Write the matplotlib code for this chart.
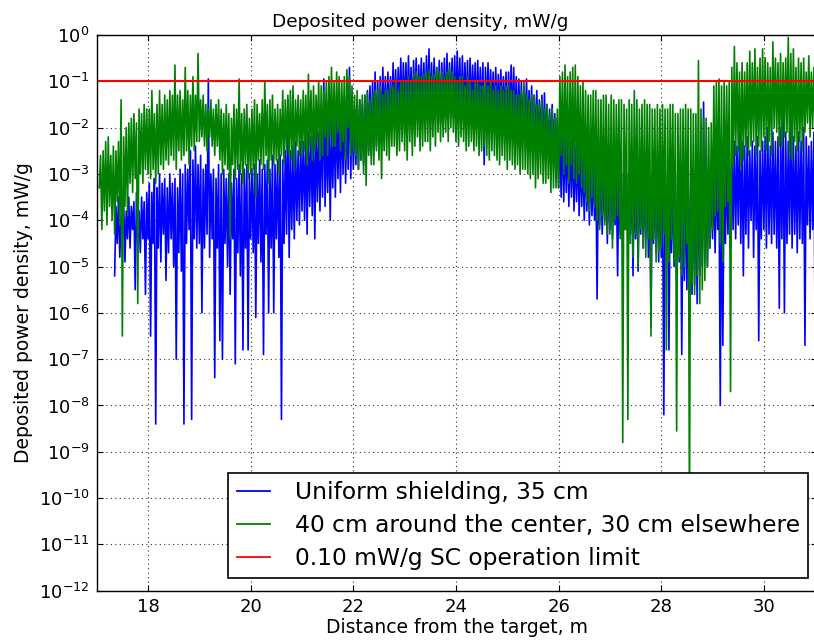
import numpy as np
import matplotlib
matplotlib.use("Agg")
import matplotlib.pyplot as plt
from matplotlib.ticker import LogLocator, NullLocator

# ---- data: log10 of deposited power density (mW/g), one value every 0.025 m ----
x_step = 0.025

blue_x0 = 17.35
blue_exp = [
    # 17.35 - 17.975
    -5.2, -3.7, -4.5, -3.5, -4.8, -3.9, -4.3, -3.6, -4.9, -3.8, -4.4, -3.5, -4.6, -3.7, -4.2, -3.6, -5.5, -3.4, -4.5, -3.8,
    -4.7, -3.5, -4.4, -3.6, -5.6, -3.4,
    # 18
    -4.4, -3.2, -6.5, -3.4, -4.5, -3.1, -8.4, -3.3, -4.6, -3.0, -4.9, -3.2, -4.3, -3.1, -5.3, -3.3, -4.7, -3.0, -4.4, -3.2,
    -5.0, -3.1, -7.0, -3.3, -4.7, -2.9, -5.1, -3.0, -8.4, -2.8, -4.5, -2.9, -4.2, -2.5, -8.3, -2.7, -4.4, -2.4, -4.6, -2.8,
    # 19
    -4.5, -2.6, -6.0, -2.9, -4.6, -2.8, -4.3, -0.95, -4.8, -3.0, -4.4, -2.9, -7.4, -3.1, -4.6, -2.8, -6.6, -3.0, -7.0, -2.9,
    -4.5, -3.1, -5.0, -3.0, -5.6, -3.2, -4.4, -2.9, -7.1, -3.1, -4.7, -2.8, -5.2, -3.0, -6.8, -2.9, -4.6, -2.8, -6.8, -3.0,
    # 20
    -4.4, -2.9, -4.7, -2.8, -6.1, -3.0, -4.5, -2.7, -4.9, -2.9, -6.9, -2.8, -4.3, -2.7, -6.0, -2.9, -4.6, -2.6, -6.0, -2.8,
    -4.4, -2.7, -4.8, -2.6, -8.3, -2.7, -4.5, -2.5, -4.3, -1.4, -4.8, -2.5, -4.2, -2.4, -4.4, -2.3, -4.0, -2.5, -4.1, -2.3,
    # 21
    -3.8, -2.3, -4.0, -2.2, -4.3, -2.1, -3.7, -2.2, -3.9, -2.0, -4.4, -1.9, -3.6, -2.1, -3.8, -1.8, -3.5, -0.95, -3.7, -1.9,
    -3.4, -1.7, -4.0, -1.8, -3.3, -1.6, -3.5, -1.5, -3.1, -1.7, -3.4, -1.5, -3.0, -1.4, -3.2, -1.6, -2.9, -0.7, -3.1, -1.4,
    # 22
    -2.9, -1.6, -2.8, -1.5, -2.9, -1.4, -2.7, -1.5, -2.8, -1.3, -2.6, -1.2, -2.5, -1.1, -2.6, -1.0, -2.3, -0.8, -2.4, -1.0,
    -2.2, -0.9, -2.3, -0.7, -2.0, -0.9, -2.1, -0.8, -1.9, -0.9, -2.0, -0.6, -1.8, -0.75, -1.9, -0.7, -1.7, -0.5, -1.8, -0.6,
    # 23
    -1.7, -0.6, -1.8, -0.45, -1.6, -0.7, -1.9, -0.55, -1.7, -0.5, -1.8, -0.65, -1.6, -0.5, -1.7, -0.6, -1.9, -0.45, -1.6, -0.3,
    -1.7, -0.6, -1.8, -0.5, -1.6, -0.7, -1.7, -0.55, -1.9, -0.6, -1.6, -0.5, -1.8, -0.4, -1.7, -0.6, -1.6, -0.5, -1.8, -0.45,
    # 24
    -1.7, -0.35, -1.6, -0.5, -1.8, -0.45, -1.7, -0.6, -1.6, -0.55, -1.9, -0.5, -1.7, -0.65, -1.6, -0.6, -1.8, -0.55, -1.7, -0.7,
    -1.9, -0.6, -2.8, -0.7, -1.7, -0.6, -1.8, -0.75, -1.7, -0.8, -1.9, -0.7, -1.8, -0.85, -1.7, -0.75, -1.9, -0.9, -1.8, -0.8,
    # 25
    -2.0, -0.8, -1.9, -0.65, -2.1, -0.7, -2.0, -0.9, -2.2, -0.95, -2.1, -1.0, -2.2, -1.1, -2.0, -0.95, -2.3, -1.2, -2.2, -1.1,
    -2.4, -1.3, -2.3, -1.2, -2.4, -1.4, -2.2, -1.3, -2.5, -1.25, -2.4, -1.5, -2.6, -1.6, -2.5, -1.5, -2.6, -1.7, -2.7, -1.8,
    # 26
    -3.3, -2.0, -3.5, -1.9, -3.6, -2.2, -3.4, -2.1, -3.7, -2.3, -3.5, -2.2, -3.8, -2.4, -3.6, -2.3, -3.9, -2.5, -3.7, -2.6,
    -4.0, -2.5, -3.8, -2.7, -4.1, -2.6, -3.9, -2.8, -4.0, -2.7, -5.7, -2.9, -4.1, -2.8, -4.3, -2.9, -4.0, -3.0, -4.5, -2.9,
    # 27
    -4.2, -2.9, -4.4, -3.0, -4.1, -3.1, -5.2, -2.9, -4.3, -3.0, -4.6, -3.2, -4.2, -3.0, -4.5, -3.1, -4.3, -2.9, -5.2, -3.1,
    -4.4, -3.2, -5.1, -3.0, -4.3, -3.1, -4.6, -3.2, -4.4, -3.0, -4.8, -3.1, -6.3, -3.0, -4.5, -3.2, -4.7, -3.1, -4.9, -3.0,
    # 28
    -4.8, -3.1, -8.2, -3.2, -4.6, -3.0, -6.8, -3.2, -4.7, -3.1, -5.0, -3.0, -5.2, -3.2, -4.9, -3.1, -6.9, -3.0, -5.3, -3.2,
    -5.5, -3.1, -5.1, -3.3, -5.6, -3.0, -5.4, -3.2, -5.8, -3.1, -5.2, -3.0, -5.0, -1.45, -4.9, -3.2, -5.0, -3.0, -4.6, -3.1,
    # 29
    -4.4, -3.0, -4.7, -2.9, -4.2, -3.1, -8.0, -2.9, -6.7, -3.0, -4.5, -2.8, -4.3, -2.7, -4.6, -2.5, -4.2, -2.3, -4.4, -2.4,
    -4.1, -2.1, -4.5, -2.3, -5.2, -2.4, -4.3, -2.2, -4.6, -2.5, -4.0, -2.3, -4.8, -2.4, -4.2, -2.2, -6.6, -2.5, -4.4, -2.3,
    # 30
    -4.2, -2.2, -4.6, -2.0, -4.3, -2.4, -4.5, -2.1, -4.3, -2.3, -4.6, -2.2, -5.9, -2.0, -4.4, -1.7, -6.0, -2.1, -4.5, -2.3,
    -4.3, -1.8, -4.6, -2.2, -4.3, -2.4, -4.7, -2.1, -4.4, -2.3, -4.5, -2.0, -6.7, -2.2, -4.1, -2.4, -4.4, -2.3, -4.2, -2.1,
    # 31
    -7.0, -2.6, -3.0,
]

green_x0 = 17.05
green_exp = [
    # 17.05 - 17.975
    -3.3, -2.6, -4.2, -2.5, -3.8, -2.3, -4.1, -2.2, -3.7, -2.6, -4.0, -2.4, -4.3, -2.5, -3.6, -2.3, -4.1, -1.4, -6.5, -2.2,
    -3.7, -2.0, -3.9, -1.9, -3.2, -1.8, -3.4, -1.7, -3.1, -1.9, -5.8, -1.6, -3.0, -1.7, -3.2, -1.5, -2.9, -1.6,
    # 18
    -3.0, -1.6, -3.1, -1.2, -2.9, -1.7, -3.2, -1.5, -3.0, -1.2, -2.8, -1.5, -2.9, -1.3, -2.7, -1.4, -2.8, -1.2, -2.6, -1.3,
    -2.7, -0.65, -2.9, -1.3, -2.5, -1.2, -2.7, -1.4, -2.6, -0.7, -2.5, -1.2, -2.8, -1.3, -2.4, -0.9, -2.5, -1.3, -2.3, -0.4,
    # 19
    -2.3, -1.4, -2.2, -1.3, -2.4, -1.5, -2.5, -1.6, -2.2, -1.4, -2.4, -1.6, -2.6, -1.5, -2.4, -1.4, -2.7, -1.6, -3.0, -1.7,
    -2.8, -1.5, -2.9, -1.7, -4.4, -1.8, -2.8, -1.5, -3.1, -1.6, -2.9, -0.95, -3.0, -1.7, -3.2, -1.6, -2.8, -1.5, -3.1, -1.8,
    # 20
    -3.0, -1.6, -2.9, -1.4, -3.5, -1.5, -2.7, -1.7, -2.8, -1.4, -2.9, -1.0, -2.6, -1.5, -3.2, -1.4, -2.7, -1.3, -2.8, -1.6,
    -2.7, -1.5, -3.0, -1.6, -2.6, -1.2, -2.8, -1.4, -2.5, -1.3, -2.6, -1.2, -2.7, -1.1, -2.9, -1.4, -2.4, -1.3, -2.6, -1.4,
    # 21
    -2.6, -1.2, -2.5, -1.3, -2.8, -0.85, -2.4, -1.2, -2.7, -1.1, -2.5, -1.3, -2.3, -1.0, -2.7, -1.1, -2.6, -1.2, -2.2, -1.0,
    -2.6, -0.9, -2.2, -0.7, -2.4, -1.0, -2.4, -0.8, -2.1, -0.9, -2.5, -1.0, -2.3, -0.9, -2.7, -0.75, -2.0, -0.9, -2.6, -1.1,
    # 22
    -2.5, -1.3, -2.6, -1.2, -2.9, -1.4, -2.7, -1.3, -3.0, -1.3, -3.25, -1.25, -2.6, -1.4, -2.8, -1.3, -2.8, -1.2, -2.5, -1.2,
    -2.7, -1.1, -3.1, -1.3, -2.5, -1.2, -2.6, -1.2, -2.7, -1.1, -2.4, -1.1, -2.4, -1.0, -2.6, -1.2, -2.5, -1.0, -2.3, -1.0,
    # 23
    -2.5, -1.0, -2.7, -0.9, -2.3, -1.0, -2.6, -0.85, -2.4, -0.8, -2.2, -0.9, -2.5, -0.9, -2.4, -0.85, -2.3, -0.8, -2.3, -0.75,
    -2.5, -0.9, -2.2, -0.85, -2.4, -0.7, -2.1, -0.8, -2.3, -0.8, -2.2, -0.9, -2.1, -0.8, -2.3, -0.7, -2.0, -0.8, -2.1, -0.9,
    # 24
    -2.3, -1.0, -2.4, -0.9, -2.2, -0.9, -2.3, -1.1, -2.5, -0.9, -2.4, -1.0, -2.3, -1.2, -2.5, -1.0, -2.4, -1.0, -2.6, -1.1,
    -2.5, -1.1, -2.4, -1.0, -2.6, -1.1, -2.7, -1.0, -2.5, -1.2, -2.6, -1.1, -2.7, -1.2, -2.8, -1.1, -2.6, -1.2, -2.7, -1.1,
    # 25
    -2.9, -1.1, -2.7, -1.2, -2.8, -1.2, -2.9, -1.3, -2.8, -1.3, -3.0, -1.2, -2.9, -1.0, -2.9, -1.3, -3.0, -1.4, -3.1, -1.3,
    -3.0, -1.3, -3.3, -1.5, -3.1, -1.5, -3.0, -1.4, -3.2, -1.6, -3.2, -1.5, -3.1, -1.7, -3.4, -1.6, -3.3, -1.8, -3.3, -1.6,
    # 26
    -3.3, -0.9, -2.6, -0.8, -3.0, -0.65, -2.8, -0.9, -3.2, -0.8, -2.8, -0.7, -3.1, -0.65, -3.2, -0.9, -3.0, -1.1, -3.3, -1.0,
    -3.4, -1.2, -3.6, -1.3, -3.8, -1.3, -3.5, -1.2, -3.7, -1.2, -4.0, -1.4, -4.2, -1.4, -3.9, -1.3, -4.1, -1.3, -4.3, -1.5,
    # 27
    -4.3, -1.3, -4.6, -1.4, -4.0, -1.5, -3.9, -1.4, -4.4, -1.4, -8.8, -1.5, -4.2, -1.6, -8.3, -1.4, -4.5, -1.5, -4.8, -1.2,
    -4.3, -1.4, -5.0, -1.6, -4.2, -1.5, -4.6, -1.4, -4.8, -1.5, -4.4, -1.5, -6.5, -1.6, -4.4, -1.6, -4.9, -1.5, -4.7, -1.6,
    # 28
    -4.6, -1.5, -4.3, -1.6, -6.8, -1.6, -4.9, -1.5, -4.4, -1.5, -4.9, -1.7, -8.55, -1.7, -4.8, -1.6, -5.2, -1.6, -5.0, -1.5,
    -4.5, -1.6, -10.5, -1.6, -5.4, -1.7, -5.6, -1.7, -5.2, -0.55, -5.8, -1.6, -5.5, -1.8, -5.3, -1.8, -5.0, -2.0, -4.6, -1.9,
    # 29
    -4.2, -1.1, -3.9, -1.0, -3.8, -0.95, -4.5, -1.1, -4.9, -1.0, -3.7, -1.1, -3.6, -1.0, -7.7, -0.7, -2.8, -0.25, -2.6, -0.6,
    -2.5, -0.8, -2.9, -0.6, -2.7, -0.8, -2.4, -0.6, -2.6, -0.35, -2.4, -0.6, -2.3, -0.3, -2.6, -0.7, -2.4, -0.5, -2.5, -0.3,
    # 30
    -2.2, -0.5, -2.5, -0.6, -2.3, -0.7, -2.6, -0.15, -2.0, -0.5, -2.1, -0.6, -2.4, -0.4, -2.4, -0.6, -2.2, -0.5, -2.1, -0.05,
    -2.6, -0.4, -2.7, -0.3, -2.3, -0.7, -2.5, -0.5, -2.3, -0.6, -2.5, -0.5, -2.1, -0.8, -1.9, -0.45, -2.2, -0.8, -2.0, -0.7,
    # 31
    -2.2, -0.9, -2.0,
]

limit_value = 0.10
labels = ["Uniform shielding, 35 cm",
          "40 cm around the center, 30 cm elsewhere",
          "0.10 mW/g SC operation limit"]
x_ticks = [18, 20, 22, 24, 26, 28, 30]

blue_x = blue_x0 + x_step * np.arange(len(blue_exp))
green_x = green_x0 + x_step * np.arange(len(green_exp))
blue_y = 10.0 ** np.array(blue_exp)
green_y = 10.0 ** np.array(green_exp)

plt.rcParams.update({
    "font.family": ["DejaVu Sans"],
    "xtick.direction": "in", "ytick.direction": "in",
    "xtick.top": True, "ytick.right": True,
    "xtick.major.size": 4, "ytick.major.size": 4,
    "xtick.major.pad": 5, "ytick.major.pad": 5,
    "axes.linewidth": 1.0,
})

fig = plt.figure(figsize=(8.14, 6.42), dpi=100)
ax = fig.add_axes([96.7 / 814, 1 - 590.7 / 642, 1.004 - 96.7 / 814, (590.7 - 35) / 642])

ax.plot(blue_x, blue_y, color="b", lw=1.2, label=labels[0])
ax.plot(green_x, green_y, color=(0, 0.5, 0), lw=1.2, label=labels[1])
ax.axhline(limit_value, color="r", lw=1.5, label=labels[2])

ax.set_yscale("log")
ax.set_ylim(1e-12, 1.0)
ax.set_xlim(17.0, 31.04)
ax.yaxis.set_major_locator(LogLocator(base=10, numticks=20))
ax.yaxis.set_minor_locator(NullLocator())
ax.set_xticks(x_ticks)
ax.tick_params(labelsize=13)
ax.grid(True, color="0.2", linestyle=(0, (1, 3)), linewidth=0.8)

ax.set_title("Deposited power density, mW/g", fontsize=13.3, pad=6, x=0.449)
ax.set_xlabel("Distance from the target, m", fontsize=13.5, labelpad=2)
ax.set_ylabel("Deposited power density, mW/g", fontsize=13.5)

leg = ax.legend(loc="lower right", bbox_to_anchor=(808 / 814, (642 - 578) / 642),
                bbox_transform=fig.transFigure, borderaxespad=0,
                fontsize=16.8, fancybox=False, framealpha=1, edgecolor="k",
                handlelength=1.42, handletextpad=1.07, borderpad=0.35, labelspacing=0.43)
leg.get_frame().set_linewidth(1.2)
for line in leg.get_lines():
    line.set_linewidth(1.3)

fig.savefig("out.png", dpi=100, facecolor="white")
